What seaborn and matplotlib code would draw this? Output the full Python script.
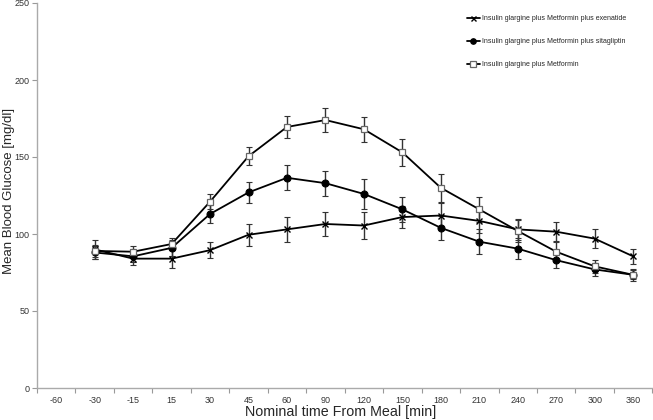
import matplotlib
matplotlib.use("Agg")
import matplotlib.pyplot as plt
from matplotlib.lines import Line2D
import seaborn as sns
import numpy as np
import pandas as pd

categories = ["-60", "-30", "-15", "15", "30", "45", "60", "90", "120", "150",
              "180", "210", "240", "270", "300", "360"]

series_names = ["Insulin glargine plus Metformin plus exenatide",
                "Insulin glargine plus Metformin plus sitagliptin",
                "Insulin glargine plus Metformin"]

# values for categories -30 .. 360 (no data at -60)
exenatide = [90, 84, 84, 89.5, 99.5, 103, 106.5, 105.5, 111, 112, 108.5, 103, 101.5, 97, 85.5]
exenatide_err = [6, 4, 6, 5, 7, 8, 8, 9, 7, 8, 8, 7, 6, 6, 5]
sitagliptin = [88, 85.5, 91, 113, 127, 136.5, 133, 126, 116, 104, 95, 90.5, 83, 77, 73.5]
sitagliptin_err = [4, 4, 5, 6, 7, 8, 8, 9.5, 8, 8, 8, 7, 5, 4, 3]
metformin = [89, 88.5, 93.5, 121, 150.5, 169.5, 174, 168, 153, 130, 116, 102, 88.5, 79, 73.5]
metformin_err = [4, 4, 4, 5, 6, 7, 7.5, 8, 9, 9, 8, 7, 6, 4, 4]

yticks = [0, 50, 100, 150, 200, 250]

sns.set_style("white")
plt.rcParams['font.family'] = ['Liberation Sans', 'DejaVu Sans']

fig = plt.figure(figsize=(6.53, 4.20), dpi=100)
ax = fig.add_axes([37 / 653, 32 / 420, 1 - 37 / 653 - 0.001, (388 - 3) / 420])

pos = np.arange(1, len(categories))
styles = [
    dict(marker="x", ms=4.5, mfc="black", mec="black", mew=1.0),
    dict(marker="o", ms=5, mfc="black", mec="black", mew=0.8),
    dict(marker="s", ms=5, mfc="white", mec="#666666", mew=0.9),
]
data = [(exenatide, exenatide_err), (sitagliptin, sitagliptin_err), (metformin, metformin_err)]

handles = []
for name, (vals, errs), st in zip(series_names, data, styles):
    df = pd.DataFrame({"pos": pos, "value": vals, "err": errs})
    ax.errorbar(df["pos"], df["value"], yerr=df["err"], fmt="none",
                ecolor="#333333", elinewidth=1.0, capsize=2.5, capthick=0.8, zorder=2)
    sns.lineplot(data=df, x="pos", y="value", ax=ax, color="black", linewidth=1.3,
                 zorder=3, **st)
    hst = dict(st)
    hst["ms"] = st["ms"] * 0.8
    handles.append(Line2D([0], [0], color="black", linewidth=1.3, **hst))

ax.set_xlim(-0.5, len(categories) - 0.5)
ax.set_ylim(0, 250)
ax.set_xticks(np.arange(len(categories)))
ax.set_xticklabels(categories)
ax.set_xticks(np.arange(-0.5, len(categories) + 0.5, 1), minor=True)
ax.tick_params(axis="x", which="major", length=0, labelsize=6.5, pad=6, colors="#333333")
ax.tick_params(axis="x", which="minor", length=3.5, width=0.8, color="#999999", direction="out", bottom=True)
ax.set_yticks(yticks)
ax.tick_params(axis="y", which="major", length=3.5, width=0.8, color="#999999", direction="out",
               left=True, labelsize=6.5, labelcolor="#333333", pad=2)

for s in ["top", "right"]:
    ax.spines[s].set_visible(False)
for s in ["left", "bottom"]:
    ax.spines[s].set_color("#aaaaaa")
    ax.spines[s].set_linewidth(1.0)

ax.set_xlabel("Nominal time From Meal [min]", fontsize=10.3)
ax.set_ylabel("Mean Blood Glucose [mg/dl]", fontsize=9.5)
ax.xaxis.set_label_coords(0.493, -0.043)
ax.yaxis.set_label_coords(-0.036, 0.512)

leg = ax.legend(handles, series_names, loc="upper left", bbox_to_anchor=(0.688, 0.985),
                frameon=False, fontsize=5.0, labelspacing=2.3, handlelength=1.9,
                handletextpad=0.3)

fig.savefig("out.png", dpi=100)
